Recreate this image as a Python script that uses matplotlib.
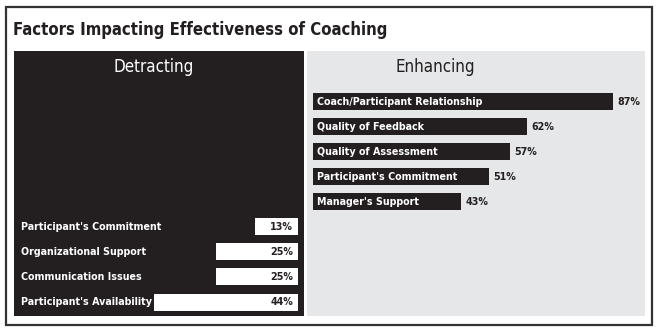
import matplotlib
matplotlib.use("Agg")
import matplotlib.pyplot as plt
from matplotlib.patches import Rectangle

plt.rcParams['font.family'] = ['DejaVu Sans']
plt.rcParams['font.stretch'] = 'condensed'

# === Data ===
title = "Factors Impacting Effectiveness of Coaching"
detract_labels = ["Participant's Commitment", "Organizational Support",
                  "Communication Issues", "Participant's Availability"]
detract_values = [13, 25, 25, 44]
enhance_labels = ["Coach/Participant Relationship", "Quality of Feedback",
                  "Quality of Assessment", "Participant's Commitment",
                  "Manager's Support"]
enhance_values = [87, 62, 57, 51, 43]

dark = '#231f20'
grey = '#e6e7e8'
W, H = 658, 332


def px_axes(fig, x0, y0, x1, y1):
    # pixel box (top-left origin) -> figure axes
    return fig.add_axes([x0 / W, 1 - y1 / H, (x1 - x0) / W, (y1 - y0) / H])


fig = plt.figure(figsize=(W / 100, H / 100), dpi=100)
fig.patch.set_facecolor('white')

# outer frame
fig.patches.append(Rectangle((6 / W, 1 - 325 / H), 646 / W, 318 / H,
                             transform=fig.transFigure, fill=False,
                             edgecolor='#333333', linewidth=1.6))

fig.text(13 / W, 1 - 30 / H, title, fontsize=12, fontweight='bold',
         color=dark, ha='left', va='center')

# === Detracting panel ===
ax1 = px_axes(fig, 14, 51, 304, 316)
ax1.set_facecolor(dark)
ypos = list(range(len(detract_values)))
ax1.barh(ypos, detract_values, height=0.68, color='white')
ax1.set_xlim(86.6, -1.83)
ax1.set_ylim(3.56, -7.04)
for y, lab, v in zip(ypos, detract_labels, detract_values):
    ax1.text(84.6, y, lab, color='white', fontsize=7.7, fontweight='bold',
             ha='left', va='center')
    ax1.text(1.5, y, f"{v}%", color=dark, fontsize=7.7, fontweight='bold',
             ha='right', va='center')
ax1.text(0.483, 0.94, "Detracting", transform=ax1.transAxes, color='white',
         fontsize=12.2, ha='center', va='center')

# === Enhancing panel ===
ax2 = px_axes(fig, 307, 51, 645, 316)
ax2.set_facecolor(grey)
ypos = list(range(len(enhance_values)))
ax2.barh(ypos, enhance_values, height=0.68, color=dark)
ax2.set_xlim(-1.74, 96.2)
ax2.set_ylim(8.56, -2.04)
for y, lab, v in zip(ypos, enhance_labels, enhance_values):
    ax2.text(1.3, y, lab, color='white', fontsize=7.7, fontweight='bold',
             ha='left', va='center')
    ax2.text(v + 1.2, y, f"{v}%", color=dark, fontsize=7.7, fontweight='bold',
             ha='left', va='center')
ax2.text(0.38, 0.94, "Enhancing", transform=ax2.transAxes, color=dark,
         fontsize=12.2, ha='center', va='center')

for ax in (ax1, ax2):
    ax.set_xticks([])
    ax.set_yticks([])
    for s in ax.spines.values():
        s.set_visible(False)

fig.savefig("out.png", dpi=100)
